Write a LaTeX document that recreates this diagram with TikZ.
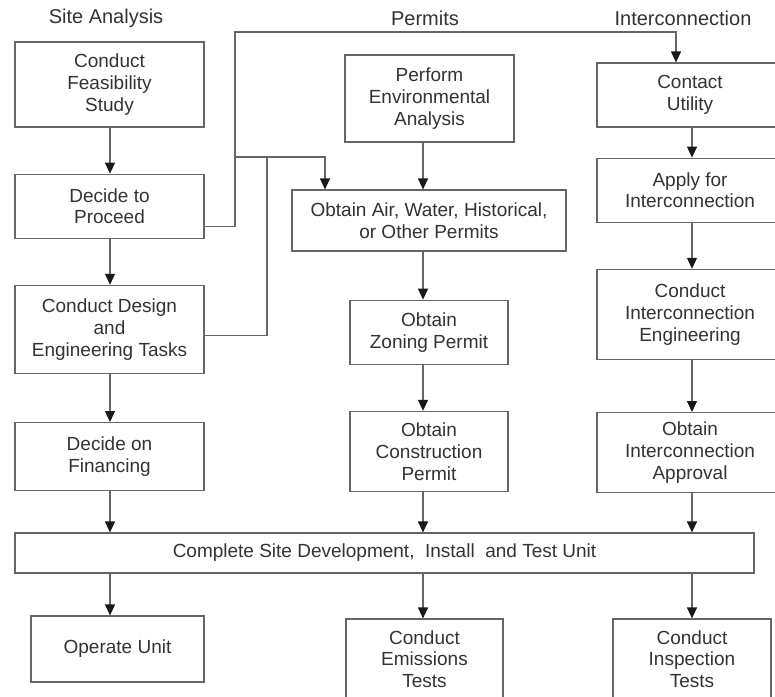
\documentclass[tikz,border=0pt]{standalone}
\usepackage{fontspec}
\setmainfont{Liberation Sans}
\usetikzlibrary{arrows.meta,positioning}
\tikzset{
  task/.style={
    draw=black!60,
    line width=1.2pt,
    rectangle,
    align=center,
    inner sep=2pt,
    text=black!80,
    font=\fontsize{19}{21.8}\selectfont
  },
  heading/.style={
    text=black!80,
    font=\fontsize{20}{22}\selectfont
  },
  flow/.style={-{Triangle[length=11pt,width=10pt,color=black!90]},draw=black!60,line width=1.2pt},
  link/.style={draw=black!60,line width=1.2pt}
}

\begin{document}
\begin{tikzpicture}[x=1pt,y=-1pt]

\fill[white] (0,0) rectangle (775,696);
\useasboundingbox (0,0) rectangle (775,696);

% column headings
\node[heading] (hsite) at (106,18) {Site Analysis};
\node[heading] (hperm) at (425,18) {Permits};
\node[heading] (hinter) at (683,18) {Interconnection};

% arrow columns
\coordinate (colA) at (110,0);
\coordinate (colP) at (423,0);
\coordinate (colI) at (692,0);

% Site Analysis
\node[task, minimum width=189pt, minimum height=85pt] (feas) at (109.5,84.5) {Conduct\\Feasibility\\Study};
\node[task, minimum width=189pt, minimum height=64pt, below=46pt of feas] (decide) {Decide to\\Proceed};
\node[task, minimum width=189pt, minimum height=88pt, below=46pt of decide] (design) {Conduct Design\\and\\Engineering Tasks};
\node[task, minimum width=189pt, minimum height=68pt, below=48pt of design] (finance) {Decide on\\Financing};

% Permits
\node[task, minimum width=169pt, minimum height=87pt] (env) at (429.5,98.5) {Perform\\Environmental\\Analysis};
\node[task, minimum width=274pt, minimum height=61pt] (air) at (429,220.5) {Obtain Air, Water, Historical,\\or Other Permits};
\node[task, minimum width=158pt, minimum height=64pt, below=48pt of air] (zoning) {Obtain\\Zoning Permit};
\node[task, minimum width=158pt, minimum height=80pt, below=46pt of zoning] (constr) {Obtain\\Construction\\Permit};

% Interconnection
\node[task, minimum width=186pt, minimum height=64pt] (contact) at (690,95) {Contact\\Utility};
\node[task, minimum width=186pt, minimum height=64pt, below=30pt of contact] (apply) {Apply for\\Interconnection};
\node[task, minimum width=186pt, minimum height=90pt, below=46pt of apply] (eng) {Conduct\\Interconnection\\Engineering};
\node[task, minimum width=186pt, minimum height=80pt, below=52pt of eng] (approval) {Obtain\\Interconnection\\Approval};

% common steps
\node[task, minimum width=739pt, minimum height=40pt] (complete) at (384.5,553) {Complete Site Development,\ \ Install\ \ and Test Unit};
\node[task, minimum width=173pt, minimum height=66pt] (operate) at (117.5,649) {Operate Unit};
\node[task, minimum width=157pt, minimum height=80pt] (emis) at (424.5,659) {Conduct\\Emissions\\Tests};
\node[task, minimum width=158pt, minimum height=80pt] (inspect) at (692,659) {Conduct\\Inspection\\Tests};

% vertical flows
\draw[flow] (feas.south -| colA) -- (decide.north -| colA);
\draw[flow] (decide.south -| colA) -- (design.north -| colA);
\draw[flow] (design.south -| colA) -- (finance.north -| colA);
\draw[flow] (finance.south -| colA) -- (complete.north -| colA);

\draw[flow] (env.south -| colP) -- (air.north -| colP);
\draw[flow] (air.south -| colP) -- (zoning.north -| colP);
\draw[flow] (zoning.south -| colP) -- (constr.north -| colP);
\draw[flow] (constr.south -| colP) -- (complete.north -| colP);

\draw[flow] (contact.south -| colI) -- (apply.north -| colI);
\draw[flow] (apply.south -| colI) -- (eng.north -| colI);
\draw[flow] (eng.south -| colI) -- (approval.north -| colI);
\draw[flow] (approval.south -| colI) -- (complete.north -| colI);

\draw[flow] (complete.south -| colA) -- (operate.north -| colA);
\draw[flow] (complete.south -| colP) -- (emis.north -| colP);
\draw[flow] (complete.south -| colI) -- (inspect.north -| colI);

% Decide to Proceed / Design - Permits and Utility
\coordinate (busTop) at (235,32);
\coordinate (busMid) at (235,157);
\coordinate (busJoin) at (267,157);
\draw[flow] ([yshift=-20pt]decide.east) -| (busTop) -| ([xshift=-14pt]contact.north);
\draw[flow] (busMid) -| ([xshift=-104pt]air.north);
\draw[link] ([yshift=-6pt]design.east) -| (busJoin);

\end{tikzpicture}
\end{document}
